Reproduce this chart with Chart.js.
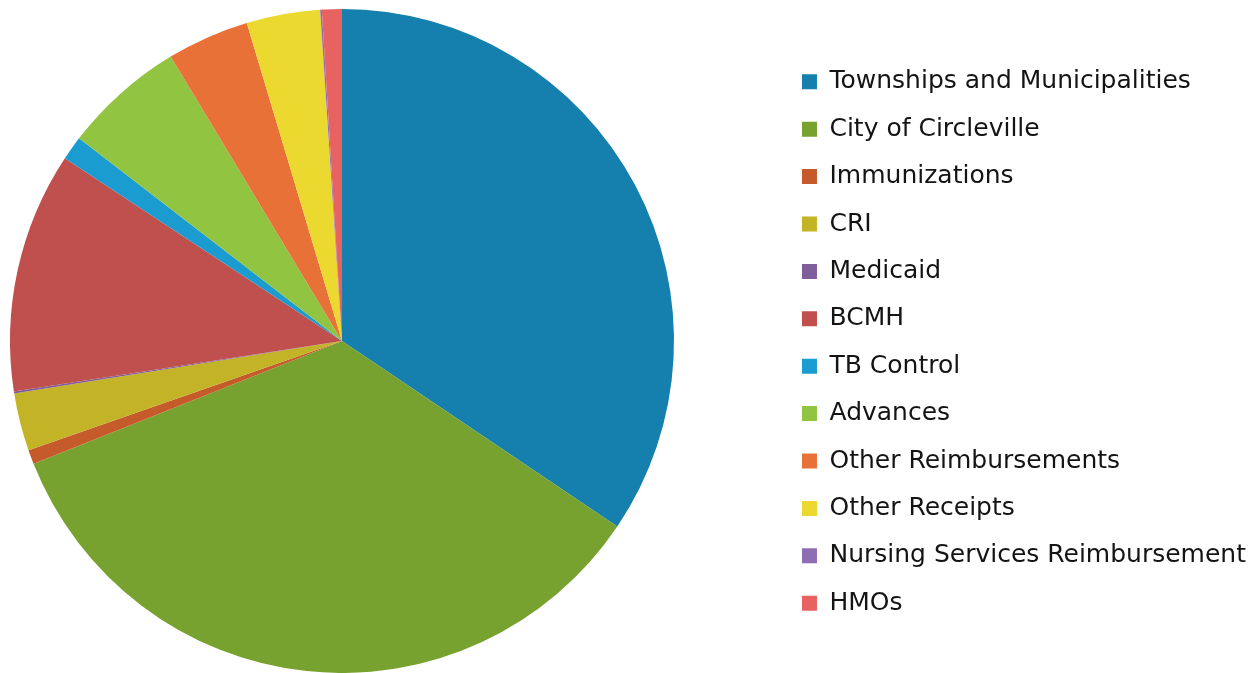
<!DOCTYPE html>
<html>
<head>
<meta charset="utf-8">
<title>Receipts</title>
<script src="https://cdn.jsdelivr.net/npm/chart.js@4/dist/chart.umd.min.js"></script>
<style>
  html, body { margin: 0; padding: 0; background: #ffffff; }
  #wrap { width: 1256px; height: 673px; }
</style>
</head>
<body>
<div id="wrap"><canvas id="pie" width="1256" height="673"></canvas></div>
<script>
// categories, in legend order (clockwise from 12 o'clock)
const categories = [
  'Townships and Municipalities',
  'City of Circleville',
  'Immunizations',
  'CRI',
  'Medicaid',
  'BCMH',
  'TB Control',
  'Advances',
  'Other Reimbursements',
  'Other Receipts',
  'Nursing Services Reimbursement',
  'HMOs'
];

// share of receipts, %
const shares = [34.44, 34.53, 0.69, 2.81, 0.10, 11.71, 1.17, 5.92, 4.00, 3.58, 0.08, 0.97];

const sliceColors = [
  '#1580AD', '#78A22F', '#C55B2A', '#C3B427', '#7F5E9B', '#C0504D',
  '#1A9CD1', '#91C441', '#E87137', '#EBD930', '#8F6DB3', '#E96262'
];

// the pie sits in the left part of the canvas, a wide gap before the legend
const _pie_area = {
  id: 'pieArea',
  afterLayout: function (chart) {
    const a = chart.chartArea;
    a.left = 0;
    a.right = 684;
    a.width = a.right - a.left;
  }
};

const chart = new Chart(document.getElementById('pie'), {
  type: 'pie',
  data: {
    labels: categories,
    datasets: [{
      data: shares,
      backgroundColor: sliceColors,
      borderWidth: 0
    }]
  },
  options: {
    responsive: false,
    animation: false,
    devicePixelRatio: 1,
    layout: { padding: { left: 0, top: 9, bottom: -3, right: 0 } },
    plugins: {
      tooltip: { enabled: false },
      legend: {
        position: 'right',
        labels: {
          boxWidth: 15,
          boxHeight: 15,
          padding: 22.4,
          color: '#141414',
          font: { family: 'DejaVu Sans', size: 25 }
        }
      }
    }
  },
  plugins: [_pie_area]
});
</script>
</body>
</html>
